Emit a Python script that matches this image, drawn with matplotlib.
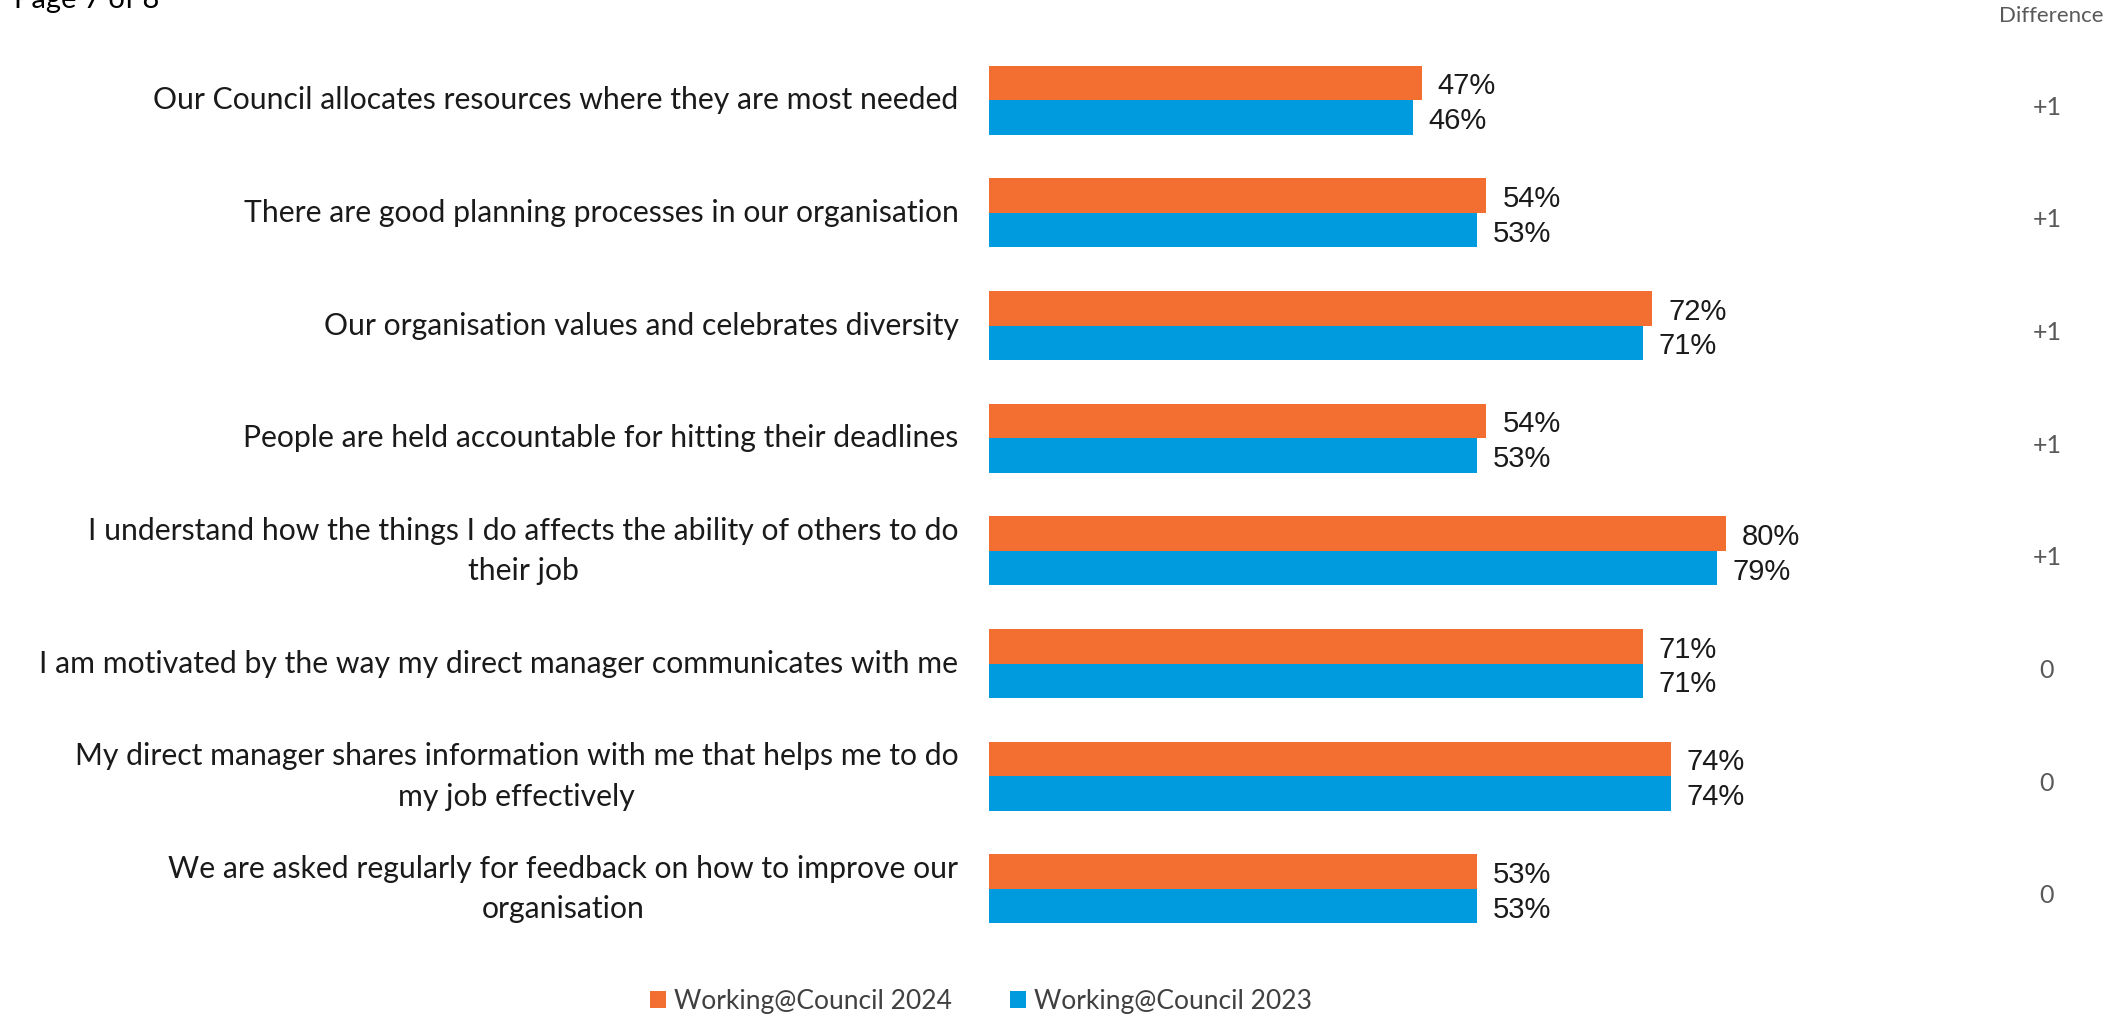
import matplotlib
matplotlib.use("Agg")
import matplotlib.pyplot as plt
from matplotlib.patches import Patch
from matplotlib.transforms import blended_transform_factory

# Survey statements, scores for each year and the change between them
statements = [
    "Our Council allocates resources where they are most needed",
    "There are good planning processes in our organisation",
    "Our organisation values and celebrates diversity",
    "People are held accountable for hitting their deadlines",
    "I understand how the things I do affects the ability of others to do\ntheir job",
    "I am motivated by the way my direct manager communicates with me",
    "My direct manager shares information with me that helps me to do\nmy job effectively",
    "We are asked regularly for feedback on how to improve our\norganisation",
]
scores_2024 = [47, 54, 72, 54, 80, 71, 74, 53]
scores_2023 = [46, 53, 71, 53, 79, 71, 74, 53]
differences = ["+1", "+1", "+1", "+1", "+1", "0", "0", "0"]

series_names = ["Working@Council 2024", "Working@Council 2023"]
orange = "#F26F31"
blue = "#009ADE"
grey = "#595959"

label_font = "Lato"
number_font = "Liberation Sans"

fig = plt.figure(figsize=(21.21, 10.15), dpi=100)
ax = fig.add_axes([0.4663, 0.0687, 0.4342, 0.888])

bar_h = 0.306
rows = list(range(len(statements)))
ax.barh([r - bar_h / 2 for r in rows], scores_2024, height=bar_h, color=orange)
ax.barh([r + bar_h / 2 for r in rows], scores_2023, height=bar_h, color=blue)

ax.set_xlim(0, 100)
ax.set_ylim(len(statements) - 0.5, -0.5)
ax.axis("off")

# value labels just past the end of each bar
for r, v24, v23 in zip(rows, scores_2024, scores_2023):
    ax.annotate(f"{v24}%", (v24, r - bar_h / 2 + 0.03), xytext=(11.5, 0),
                textcoords="offset points", va="center", ha="left",
                fontsize=21, family=number_font, color="#1a1a1a")
    ax.annotate(f"{v23}%", (v23, r + bar_h / 2 + 0.03), xytext=(11.5, 0),
                textcoords="offset points", va="center", ha="left",
                fontsize=21, family=number_font, color="#1a1a1a")

# statement text to the left of the bars
for r, s in zip(rows, statements):
    ax.annotate(s, (0, r), xytext=(-22, 0), textcoords="offset points",
                ha="right", va="center", multialignment="center",
                fontsize=21.7, family=label_font, color="#1a1a1a",
                linespacing=1.55)

# difference column on the far right
trans = blended_transform_factory(fig.transFigure, ax.transData)
for r, d in zip(rows, differences):
    ax.text(0.965, r + 0.06, d, transform=trans, ha="center", va="center",
            fontsize=18, family=label_font, color=grey)
fig.text(0.967, 1 - 16 / 1015, "Difference", ha="center", va="center",
         fontsize=16, family=label_font, color=grey)

fig.text(14 / 2121, 1 - 8 / 1015, "Page 7 of 8", ha="left", va="baseline",
         fontsize=21, family=label_font, color="black")

handles = [Patch(facecolor=orange), Patch(facecolor=blue)]
fig.legend(handles, series_names, loc="center", ncol=2,
           bbox_to_anchor=(0.4625, 1 - 1001 / 1015), frameon=False,
           prop={"family": label_font, "size": 19}, labelcolor="#404040",
           handlelength=0.6, handleheight=0.6, handletextpad=0.3,
           columnspacing=2.2)

fig.savefig("out.png", dpi=100, facecolor="white")
